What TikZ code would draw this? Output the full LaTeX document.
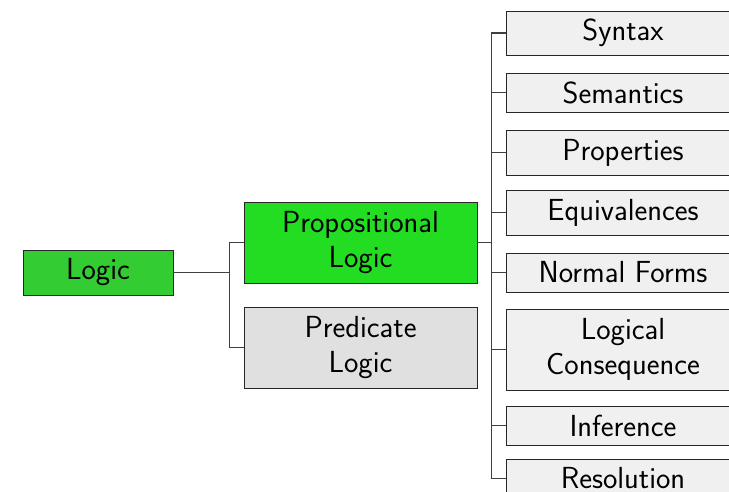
\documentclass[tikz,border=0pt]{standalone}
\usepackage{fontspec}
\begin{document}
\begin{tikzpicture}[x=1pt,y=-1pt,
  box/.style={draw=black!85, line width=0.9pt, rectangle, inner sep=0pt, align=center,
    font=\sffamily\fontsize{30.5}{35}\selectfont, text=black},
  lbox/.style={box, fill=black!6, minimum width=234pt},
  conn/.style={draw=black!75, line width=1.1pt}]
\definecolor{lgreen}{RGB}{51,204,51}
\definecolor{pgreen}{RGB}{34,221,34}
\definecolor{pgray}{RGB}{224,224,224}
\useasboundingbox (0,0) rectangle (729,491);
\clip (0,0) rectangle (729,491);
\node[box, fill=lgreen, minimum width=150pt, minimum height=45pt] (logic) at (98,272.5) {Logic};
\node[box, fill=pgreen, minimum width=233pt, minimum height=81pt] (prop) at (360.5,242.5) {Propositional\\Logic};
\node[box, fill=pgray, minimum width=233pt, minimum height=81pt] (pred) at (360.5,347.5) {Predicate\\Logic};
\node[lbox, minimum height=44pt] (syn) at (623,33) {Syntax};
\node[lbox, minimum height=39pt] (sem) at (623,92.5) {Semantics};
\node[lbox, minimum height=45pt] (pro) at (623,152.5) {Properties};
\node[lbox, minimum height=45pt] (equ) at (623,212.5) {Equivalences};
\node[lbox, minimum height=39pt] (nf) at (623,272.5) {Normal Forms};
\node[lbox, minimum height=81pt] (lc) at (623,349.5) {Logical\\Consequence};
\node[lbox, minimum height=39pt] (inf) at (623,425.5) {Inference};
\node[lbox, minimum height=39pt] (res) at (623,478.5) {Resolution};
\draw[conn] (logic.east) -- ++(56,0) |- (prop.west);
\draw[conn] (logic.east) -- ++(56,0) |- (pred.west);
\foreach \n in {syn,sem,pro,equ,nf,lc,inf,res}
  \draw[conn] (prop.east) -- ++(14,0) |- (\n.west);
\end{tikzpicture}
\end{document}
